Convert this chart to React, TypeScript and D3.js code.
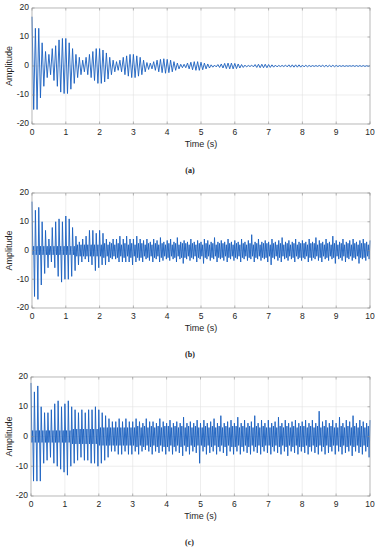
import React from "react";
import * as d3 from "d3";

// peak values, one upper and one lower peak every 0.1 s
const aUpper = [
  17, 13, 13, 8, 5, 4, 6, 7, 9, 9.5,
  9.5, 8, 6, 4, 3, 2, 3, 4, 5, 6,
  6, 5.5, 4.5, 3, 2, 1.5, 2, 3, 3.5, 4,
  4, 3.5, 3, 2, 1.2, 1, 1.5, 2, 2.3, 2.5,
  2.3, 2, 1.5, 1, 0.6, 0.6, 1, 1.3, 1.5, 1.5,
  1.3, 1, 0.7, 0.4, 0.3, 0.5, 0.7, 0.9, 1, 1,
  0.9, 0.7, 0.5, 0.3, 0.2, 0.3, 0.5, 0.6, 0.6, 0.6,
  0.5, 0.4, 0.3, 0.2, 0.2, 0.3, 0.4, 0.4, 0.4, 0.4,
  0.3, 0.25, 0.2, 0.15, 0.15, 0.2, 0.25, 0.25, 0.25, 0.25,
  0.2, 0.15, 0.15, 0.1, 0.1, 0.15, 0.15, 0.15, 0.15, 0.1,
  0.1,
];
const aLower = [
  -15, -15, -11, -7, -4, -3, -5, -7, -9, -9.5,
  -9.5, -8, -6, -4, -3, -2, -3, -4, -5, -6,
  -6, -5.5, -4.5, -3, -2, -1.5, -2, -3, -3.5, -4,
  -4, -3.5, -3, -2, -1.2, -1, -1.5, -2, -2.3, -2.5,
  -2.3, -2, -1.5, -1, -0.6, -0.6, -1, -1.3, -1.5, -1.5,
  -1.3, -1, -0.7, -0.4, -0.3, -0.5, -0.7, -0.9, -1, -1,
  -0.9, -0.7, -0.5, -0.3, -0.2, -0.3, -0.5, -0.6, -0.6, -0.6,
  -0.5, -0.4, -0.3, -0.2, -0.2, -0.3, -0.4, -0.4, -0.4, -0.4,
  -0.3, -0.25, -0.2, -0.15, -0.15, -0.2, -0.25, -0.25, -0.25, -0.25,
  -0.2, -0.15, -0.15, -0.1, -0.1, -0.15, -0.15, -0.15, -0.15, -0.1,
  -0.1,
];

const bUpper = [
  17, 14, 15, 10, 7, 4, 8, 10, 11, 10,
  12, 11, 8, 5, 3, 4, 5, 7, 7, 6,
  7, 6, 4, 3, 4, 4, 5, 4, 5, 4,
  4, 5, 4, 3.5, 4, 3, 4, 3.5, 4.5, 3,
  3.5, 4, 3, 4.5, 3, 3.5, 3, 4, 3, 3.5,
  3, 4, 3.5, 3, 4.5, 3, 3.5, 3, 4, 3,
  3.5, 3, 4, 3, 3.5, 5.5, 3, 4, 3, 3.5,
  3, 4, 3, 3.5, 4.5, 3, 3.5, 3, 4, 3,
  3.5, 3, 4, 3, 4.5, 3.5, 3, 4, 3, 5,
  3.5, 3, 4, 3, 3.5, 4, 3, 3.5, 4, 3,
  3.5,
];
const bLower = [
  -16, -17, -12, -8, -6, -4, -6, -9, -11, -10,
  -10, -9, -7, -5, -4, -3, -4, -5, -7, -6,
  -5, -5, -4, -3, -3, -4, -4, -4, -4, -5,
  -4, -3.5, -4, -3, -3.5, -4, -3, -4, -3.5, -3,
  -3.5, -3, -4, -3, -4.5, -3, -3.5, -3, -4, -3,
  -4.5, -3, -3.5, -3, -4, -3, -3.5, -4, -3, -3.5,
  -3, -4, -3, -3.5, -3, -4, -3, -3.5, -3, -4,
  -5, -3, -3.5, -4, -3, -3.5, -3, -4, -3, -3.5,
  -3, -4, -3.5, -3, -3.5, -4, -3, -3.5, -3, -4.5,
  -3, -3.5, -4, -3, -3.5, -3, -4.5, -3, -3.5, -3,
  -4,
];
// half-width of the dense noise core, every 0.1 s
const bCore = [
  1.5, 1.5, 1.5, 1.5, 1.5, 1.5, 1.5, 1.5, 1.5, 1.5,
  1.5, 1.5, 1.5, 2, 2, 2, 2, 2, 2, 2,
  2, 2.5, 2, 2.5, 2, 2.5, 2, 2.5, 2, 2.5,
  2, 2.5, 2.5, 2, 2.5, 2, 2.5, 2, 2.5, 2,
  2.5, 2, 2.5, 2, 2.5, 2.5, 2, 2.5, 2, 2.5,
  2, 2.5, 2, 2.5, 2, 2.5, 2.5, 2, 2.5, 2,
  2.5, 2, 2.5, 2, 2.5, 2, 2.5, 2, 2.5, 2.5,
  2, 2.5, 2, 2.5, 2, 2.5, 2, 2.5, 2, 2.5,
  2.5, 2, 2.5, 2.5, 2, 2.5, 2, 2.5, 2, 2.5,
  2, 2.5, 2, 2.5, 2, 2.5, 2, 2.5, 2.5, 2,
  2.5,
];

const cUpper = [
  18, 15, 17, 10, 8, 8, 9, 11, 12, 10,
  11, 12, 10, 9, 8, 9, 8, 9, 9, 10,
  9, 8, 7, 6, 5, 5, 6, 5, 6, 5,
  5, 6, 5, 4.5, 6, 5, 5, 4.5, 6, 5,
  4.5, 5.5, 4.5, 5, 4.5, 6.5, 4.5, 5, 4.5, 5.5,
  4.5, 5.5, 4.5, 5, 6, 4.5, 7, 4.5, 5, 5.5,
  4.5, 6.5, 4.5, 5.5, 4.5, 5, 7, 4.5, 5.5, 4.5,
  5.5, 4.5, 5, 6.5, 4.5, 5.5, 4.5, 5, 5.5, 4.5,
  5, 5.5, 4.5, 5.5, 4.5, 8.5, 5, 5.5, 4.5, 5.5,
  4.5, 6.5, 4.5, 5.5, 5, 7, 4.5, 5.5, 5, 4.5,
  5.5,
];
const cLower = [
  -15, -15, -15, -9, -8, -7, -9, -10, -11, -12,
  -13, -10, -9, -8, -7, -8, -8, -9, -9, -10,
  -9, -8, -7, -5, -5, -6, -6, -5, -6, -6,
  -5, -6, -5, -4.5, -5, -6, -5, -5.5, -5, -6,
  -5, -6, -5, -5.5, -6.5, -5, -6, -5, -5.5, -9,
  -5, -6, -5.5, -5, -6, -5, -5.5, -6.5, -5, -6,
  -5, -6, -5, -5.5, -6, -5, -5.5, -6, -5, -5.5,
  -6, -5, -5.5, -6, -5, -6.5, -5, -5.5, -6, -5,
  -5.5, -6, -5, -5.5, -6, -5, -6, -5.5, -5, -6,
  -5, -6, -5.5, -5, -6.5, -5, -5.5, -6, -5, -7,
  -5,
];
const cCore = [
  2, 2, 2, 2, 2, 2, 2, 2, 2, 2,
  2, 2, 2.5, 2.5, 2.5, 2.5, 2.5, 2.5, 2.5, 2.5,
  3, 3, 3, 3, 3, 3, 3, 3, 3, 3,
  3, 3.5, 3, 3.5, 3, 3.5, 3, 3.5, 3, 3.5,
  3.5, 3, 3.5, 3, 3.5, 3, 3.5, 3, 3.5, 3,
  3, 3.5, 3, 3.5, 3, 3.5, 3, 3.5, 3, 3.5,
  3.5, 3, 3.5, 3, 3.5, 3, 3.5, 3, 3.5, 3,
  3, 3.5, 3, 3.5, 3, 3.5, 3, 3.5, 3, 3.5,
  3.5, 3, 3.5, 3, 3.5, 3, 3.5, 3, 3.5, 3,
  3, 3.5, 3, 3.5, 3, 3.5, 3, 3.5, 3, 3.5,
  3,
];

const xTicks = [0, 1, 2, 3, 4, 5, 6, 7, 8, 9, 10];
const yTicks = [-20, -10, 0, 10, 20];
const step = 0.1;

const font = "'Liberation Sans', Arial, sans-serif";
const ink = "#262626";

const Panel = ({
  upper,
  lower,
  core,
  caption,
  top,
  bottom,
  left = 32,
  right = 370,
}: {
  upper: number[];
  lower: number[];
  core?: number[];
  caption: string;
  top: number;
  bottom: number;
  left?: number;
  right?: number;
}) => {
  const x = d3.scaleLinear([0, 10], [left, right]);
  const y = d3.scaleLinear([-20, 20], [bottom, top]);
  const pts: [number, number][] = [];
  upper.forEach((u, i) => {
    const t = i * step;
    pts.push([t, u]);
    if (i >= lower.length - 1) return;
    if (core) {
      pts.push([t + step / 4, -core[i]]);
      pts.push([t + step / 2, core[i]]);
      pts.push([t + (3 * step) / 4, lower[i]]);
    } else {
      pts.push([t + step / 2, lower[i]]);
    }
  });
  const line = d3.line<[number, number]>((d) => x(d[0]), (d) => y(d[1]));
  return (
    <g>
      <rect x={left} y={top} width={right - left} height={bottom - top} fill="#fff" />
      {xTicks.map((t) => (
        <line key={"gx" + t} x1={x(t)} x2={x(t)} y1={top} y2={bottom} stroke="#e3e3e3" strokeWidth={0.6} />
      ))}
      {yTicks.map((t) => (
        <line key={"gy" + t} x1={left} x2={right} y1={y(t)} y2={y(t)} stroke="#e3e3e3" strokeWidth={0.6} />
      ))}
      <path d={line(pts) as string} fill="none" stroke="#1a60bf" strokeWidth={0.9} />
      <rect x={left} y={top} width={right - left} height={bottom - top} fill="none" stroke="#a8a8a8" strokeWidth={0.7} />
      {xTicks.map((t) => (
        <g key={"tx" + t}>
          <line x1={x(t)} x2={x(t)} y1={bottom} y2={bottom - 2.5} stroke="#8a8a8a" strokeWidth={0.6} />
          <line x1={x(t)} x2={x(t)} y1={top} y2={top + 2.5} stroke="#8a8a8a" strokeWidth={0.6} />
          <text x={x(t)} y={bottom + 9} fontSize={8.5} fill={ink} textAnchor="middle" dominantBaseline="middle" fontFamily={font}>
            {t}
          </text>
        </g>
      ))}
      {yTicks.map((t) => (
        <g key={"ty" + t}>
          <line x1={left} x2={left + 2.5} y1={y(t)} y2={y(t)} stroke="#8a8a8a" strokeWidth={0.6} />
          <line x1={right} x2={right - 2.5} y1={y(t)} y2={y(t)} stroke="#8a8a8a" strokeWidth={0.6} />
          <text x={left - 3} y={y(t)} fontSize={8.5} fill={ink} textAnchor="end" dominantBaseline="middle" fontFamily={font}>
            {t}
          </text>
        </g>
      ))}
      <text
        transform={`translate(10,${(top + bottom) / 2}) rotate(-90)`}
        fontSize={9}
        fill={ink}
        textAnchor="middle"
        dominantBaseline="middle"
        fontFamily={font}
      >
        Amplitude
      </text>
      <text x={(left + right) / 2} y={bottom + 21} fontSize={9} fill={ink} textAnchor="middle" dominantBaseline="middle" fontFamily={font}>
        Time (s)
      </text>
      <text
        x={(left + right) / 2 - 11}
        y={bottom + 47}
        fontSize={8}
        fontWeight="bold"
        fill="#222"
        textAnchor="middle"
        dominantBaseline="middle"
        fontFamily="'Liberation Serif', serif"
      >
        {caption}
      </text>
    </g>
  );
};

export default function App() {
  return (
    <svg width={379} height={550} style={{ position: "absolute", left: 0, top: 0, background: "#fff" }}>
      <Panel upper={aUpper} lower={aLower} caption="(a)" top={8} bottom={124} />
      <Panel upper={bUpper} lower={bLower} core={bCore} caption="(b)" top={193} bottom={308} />
      <Panel upper={cUpper} lower={cLower} core={cCore} caption="(c)" top={377} bottom={496} left={31} />
    </svg>
  );
}
